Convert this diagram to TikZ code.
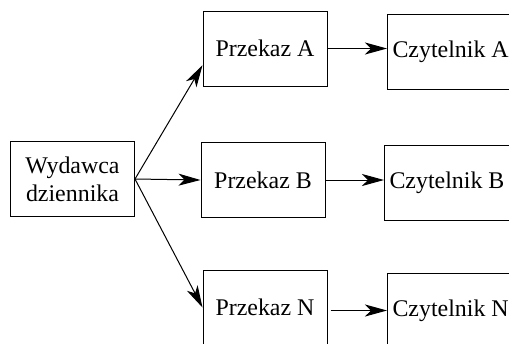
\documentclass[tikz,border=0pt]{standalone}
\usepackage{fontspec}
\setmainfont{Liberation Serif}
\usetikzlibrary{
  arrows.meta,
  positioning,  % Function "of" (e.g. [right=of x])
  calc,         % Calculations $...$
}
\tikzset{
  x=1bp,
  y=-1bp,
  >={Stealth[length=22bp,width=12bp,inset=6bp]},
  my box/.style={
    draw,
    rectangle,
    inner sep=1mm,
    minimum width=124bp,
    minimum height=75bp,
    font=\fontsize{24}{28}\selectfont
  },
  my reader/.style={
    draw,
    rectangle,
    anchor=west,
    inner xsep=5bp,
    minimum height=75bp,
    font=\fontsize{24}{28}\selectfont
  }
}
\begin{document}
\begin{tikzpicture}[line width=1bp]
\useasboundingbox (0,0) rectangle (509,343);
\node[my box,align=center] (wyd)  at (72.5,179)  {Wydawca\\dziennika};
\node[my box]              (przA) at (265,48.5)  {Przekaz A};
\node[my box]              (przB) at (263,180)   {Przekaz B};
\node[my box]              (przN) at (265,307.5) {Przekaz N};
\node[my reader]           (czyA) at (387,51.5)  {Czytelnik A};
\node[my reader]           (czyB) at (384,182.5) {Czytelnik B};
\node[my reader]           (czyN) at (387,310.5) {Czytelnik N};
\path[->] (wyd.east)  edge (przA.195)
          (wyd.east)  edge (przB.west)
          (wyd.east)  edge (przN.west)
          (przA.east) edge (przA.east -| czyA.west)
          (przB.east) edge (przB.east -| czyB.west)
          (czyN.west -| przN.east) edge[shorten <=3bp] (czyN.west);
\end{tikzpicture}
\end{document}
